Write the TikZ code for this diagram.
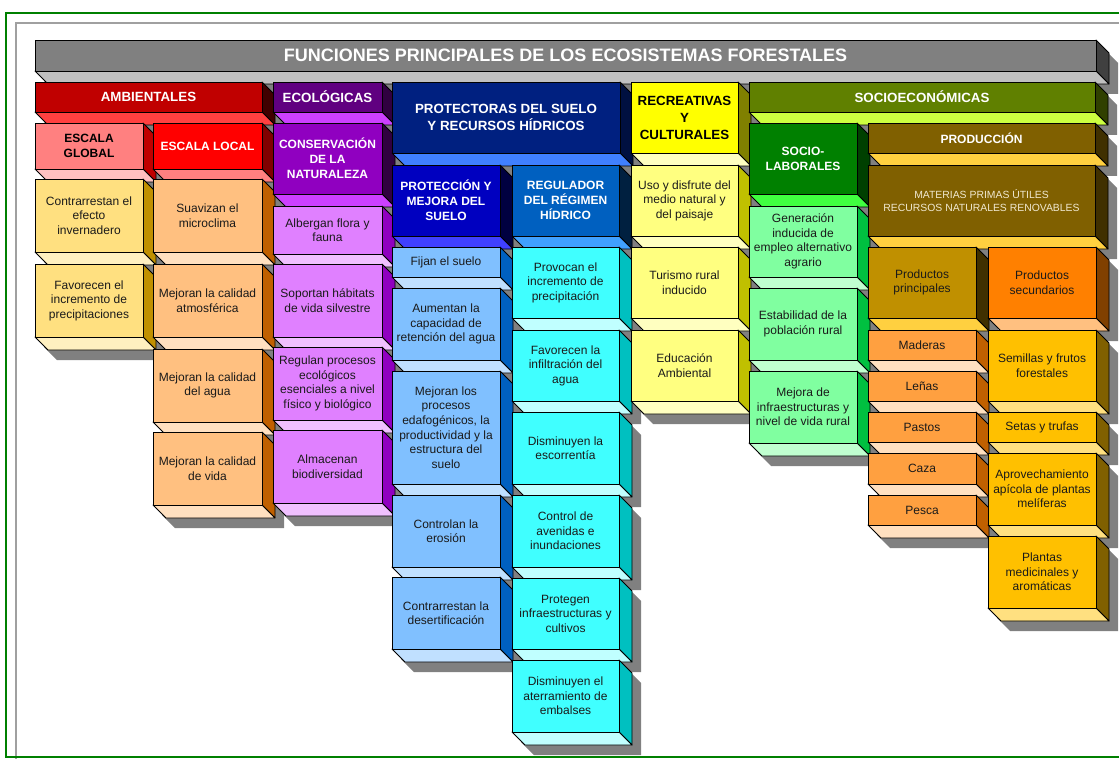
\documentclass[tikz,border=0pt]{standalone}
\usepackage{fontspec}
\setmainfont{Liberation Sans}
% colour schemes: F = front, S = side, B = bottom
\definecolor{titF}{HTML}{808080}\definecolor{titS}{HTML}{404040}\definecolor{titB}{HTML}{C0C0C0}
\definecolor{ambF}{HTML}{C00000}\definecolor{ambS}{HTML}{400000}\definecolor{ambB}{HTML}{FF4040}
\definecolor{glbF}{HTML}{FF8080}\definecolor{glbS}{HTML}{C00000}\definecolor{glbB}{HTML}{FFC0C0}
\definecolor{locF}{HTML}{FF0000}\definecolor{locS}{HTML}{800000}\definecolor{locB}{HTML}{FF8080}
\definecolor{gitF}{HTML}{FFE080}\definecolor{gitS}{HTML}{C09000}\definecolor{gitB}{HTML}{FFF0C0}
\definecolor{litF}{HTML}{FFC080}\definecolor{litS}{HTML}{C06000}\definecolor{litB}{HTML}{FFE0C0}
\definecolor{ecoF}{HTML}{600080}\definecolor{ecoS}{HTML}{300040}\definecolor{ecoB}{HTML}{CC40FF}
\definecolor{conF}{HTML}{9000C0}\definecolor{conS}{HTML}{300040}\definecolor{conB}{HTML}{CC40FF}
\definecolor{eitF}{HTML}{E080FF}\definecolor{eitS}{HTML}{9000C0}\definecolor{eitB}{HTML}{F0C0FF}
\definecolor{proF}{HTML}{002080}\definecolor{proS}{HTML}{001040}\definecolor{proB}{HTML}{4080FF}
\definecolor{pmsF}{HTML}{0000C0}\definecolor{pmsS}{HTML}{000040}\definecolor{pmsB}{HTML}{4040FF}
\definecolor{regF}{HTML}{0060C0}\definecolor{regS}{HTML}{002040}\definecolor{regB}{HTML}{40A0FF}
\definecolor{pitF}{HTML}{80C0FF}\definecolor{pitS}{HTML}{0060C0}\definecolor{pitB}{HTML}{C0E0FF}
\definecolor{ritF}{HTML}{40FFFF}\definecolor{ritS}{HTML}{00C0C0}\definecolor{ritB}{HTML}{C0FFFF}
\definecolor{recF}{HTML}{FFFF00}\definecolor{recS}{HTML}{808000}\definecolor{recB}{HTML}{FFFFC0}
\definecolor{citF}{HTML}{FFFF80}\definecolor{citS}{HTML}{C0C000}\definecolor{citB}{HTML}{FFFFC0}
\definecolor{socF}{HTML}{608000}\definecolor{socS}{HTML}{304000}\definecolor{socB}{HTML}{CCFF40}
\definecolor{slbF}{HTML}{008000}\definecolor{slbS}{HTML}{004000}\definecolor{slbB}{HTML}{40FF40}
\definecolor{sitF}{HTML}{80FFA0}\definecolor{sitS}{HTML}{00C040}\definecolor{sitB}{HTML}{C0FFD0}
\definecolor{prdF}{HTML}{806000}\definecolor{prdS}{HTML}{403000}\definecolor{prdB}{HTML}{FFD040}
\definecolor{ppF}{HTML}{C09000}\definecolor{ppS}{HTML}{403000}\definecolor{ppB}{HTML}{FFD040}
\definecolor{psF}{HTML}{FF8000}\definecolor{psS}{HTML}{804000}\definecolor{psB}{HTML}{FFC080}
\definecolor{ppiF}{HTML}{FFA040}\definecolor{ppiS}{HTML}{C06000}\definecolor{ppiB}{HTML}{FFE0C0}
\definecolor{psiF}{HTML}{FFC000}\definecolor{psiS}{HTML}{806000}\definecolor{psiB}{HTML}{FFE080}
\definecolor{shadowgray}{HTML}{808080}
\definecolor{framegreen}{HTML}{008000}
\definecolor{framegray}{HTML}{A0A0A0}
\definecolor{bodyink}{HTML}{1A1A1A}
\definecolor{matink}{HTML}{F0E8D0}
\tikzset{
  cubeline/.style={draw=black, line width=0.6pt, line join=round},
  ttl/.style={text=white, font=\fontsize{13.5}{16}\selectfont\bfseries},
  hdr/.style={text=white, font=\fontsize{10}{12.5}\selectfont\bfseries},
  hdrk/.style={text=black, font=\fontsize{10}{12.75}\selectfont\bfseries},
  subh/.style={text=white, font=\fontsize{9}{11.25}\selectfont\bfseries},
  subhk/.style={text=black, font=\fontsize{9}{11.25}\selectfont\bfseries},
  bodyt/.style={text=bodyink, font=\fontsize{9}{10.9}\selectfont},
  matt/.style={text=matink, font=\fontsize{7.8}{9.5}\selectfont},
}
% #1 name, #2 x0, #3 y0, #4 x1, #5 y1, #6 scheme, #7 text style, #8 text
\newcommand\shadowitem[8]{%
  \fill[shadowgray] (#2+9,#3+10) -- (#4+9,#3+10) -- (#4+22,#3+23) -- (#4+22,#5+23)
    -- (#2+22,#5+23) -- (#2+9,#5+10) -- cycle;}
\newcommand\drawitem[8]{%
  \filldraw[cubeline, fill=#6S] (#4,#3) -- (#4+13,#3+13) -- (#4+13,#5+13) -- (#4,#5) -- cycle;
  \filldraw[cubeline, fill=#6B] (#2,#5) -- (#4,#5) -- (#4+13,#5+13) -- (#2+13,#5+13) -- cycle;
  \node[cubeline, fill=#6F, anchor=north west, outer sep=0pt, inner sep=0pt, align=center,
    minimum width={(#4-#2)*0.75pt}, minimum height={(#5-#3)*0.75pt}, #7] (#1) at (#2,#3) {#8};}
\newcommand\allcubes{%
  \cubeitem{title}{35}{40}{1096}{71}{tit}{ttl}{FUNCIONES PRINCIPALES DE LOS ECOSISTEMAS FORESTALES}
  % AMBIENTALES
  \cubeitem{amb}{35}{82}{262}{112}{amb}{hdr}{AMBIENTALES}
  \cubeitem{glb}{35}{123}{143}{169}{glb}{subhk}{ESCALA\\GLOBAL}
  \cubeitem{glb1}{35}{179}{143}{252}{git}{bodyt}{Contrarrestan el\\efecto\\invernadero}
  \cubeitem{glb2}{35}{264}{143}{337}{git}{bodyt}{Favorecen el\\incremento de\\precipitaciones}
  \cubeitem{loc}{153}{123}{262}{169}{loc}{subh}{ESCALA LOCAL}
  \cubeitem{loc1}{153}{179}{262}{252}{lit}{bodyt}{Suavizan el\\microclima}
  \cubeitem{loc2}{153}{264}{262}{337}{lit}{bodyt}{Mejoran la calidad\\atmosférica}
  \cubeitem{loc3}{153}{349}{262}{422}{lit}{bodyt}{Mejoran la calidad\\del agua}
  \cubeitem{loc4}{153}{432}{262}{505}{lit}{bodyt}{Mejoran la calidad\\de vida}
  % ECOLOGICAS
  \cubeitem{eco}{273}{82}{382}{112}{eco}{hdr}{ECOLÓGICAS}
  \cubeitem{con}{273}{123}{382}{194}{con}{subh}{CONSERVACIÓN\\DE LA\\NATURALEZA}
  \cubeitem{eco1}{273}{206}{382}{254}{eit}{bodyt}{Albergan flora y\\fauna}
  \cubeitem{eco2}{273}{264}{382}{337}{eit}{bodyt}{Soportan hábitats\\de vida silvestre}
  \cubeitem{eco3}{273}{347}{382}{420}{eit}{bodyt}{Regulan procesos\\ecológicos\\esenciales a nivel\\físico y biológico}
  \cubeitem{eco4}{273}{430}{382}{503}{eit}{bodyt}{Almacenan\\biodiversidad}
  % PROTECTORAS
  \cubeitem{pro}{392}{82}{620}{153}{pro}{hdr}{PROTECTORAS DEL SUELO\\Y RECURSOS HÍDRICOS}
  \cubeitem{pms}{392}{165}{500}{236}{pms}{subh}{PROTECCIÓN Y\\MEJORA DEL\\SUELO}
  \cubeitem{pms1}{392}{247}{500}{277}{pit}{bodyt}{Fijan el suelo}
  \cubeitem{pms2}{392}{288}{500}{360}{pit}{bodyt}{Aumentan la\\capacidad de\\retención del agua}
  \cubeitem{pms3}{392}{371}{500}{484}{pit}{bodyt}{Mejoran los\\procesos\\edafogénicos, la\\productividad y la\\estructura del\\suelo}
  \cubeitem{pms4}{392}{495}{500}{567}{pit}{bodyt}{Controlan la\\erosión}
  \cubeitem{pms5}{392}{577}{500}{649}{pit}{bodyt}{Contrarrestan la\\desertificación}
  \cubeitem{reg}{512}{165}{619}{236}{reg}{subh}{REGULADOR\\DEL RÉGIMEN\\HÍDRICO}
  \cubeitem{reg1}{512}{247}{619}{318}{rit}{bodyt}{Provocan el\\incremento de\\precipitación}
  \cubeitem{reg2}{512}{330}{619}{401}{rit}{bodyt}{Favorecen la\\infiltración del\\agua}
  \cubeitem{reg3}{512}{412}{619}{484}{rit}{bodyt}{Disminuyen la\\escorrentía}
  \cubeitem{reg4}{512}{495}{619}{567}{rit}{bodyt}{Control de\\avenidas e\\inundaciones}
  \cubeitem{reg5}{512}{578}{619}{649}{rit}{bodyt}{Protegen\\infraestructuras y\\cultivos}
  \cubeitem{reg6}{512}{660}{619}{732}{rit}{bodyt}{Disminuyen el\\aterramiento de\\embalses}
  % RECREATIVAS
  \cubeitem{rec}{631}{82}{738}{153}{rec}{hdrk}{RECREATIVAS\\Y\\CULTURALES}
  \cubeitem{rec1}{631}{165}{738}{236}{cit}{bodyt}{Uso y disfrute del\\medio natural y\\del paisaje}
  \cubeitem{rec2}{631}{247}{738}{318}{cit}{bodyt}{Turismo rural\\inducido}
  \cubeitem{rec3}{631}{330}{738}{401}{cit}{bodyt}{Educación\\Ambiental}
  % SOCIOECONOMICAS
  \cubeitem{soc}{749}{82}{1095}{112}{soc}{hdr}{SOCIOECONÓMICAS}
  \cubeitem{slb}{749}{123}{857}{194}{slb}{subh}{SOCIO-\\LABORALES}
  \cubeitem{slb1}{749}{206}{857}{277}{sit}{bodyt}{Generación\\inducida de\\empleo alternativo\\agrario}
  \cubeitem{slb2}{749}{288}{857}{360}{sit}{bodyt}{Estabilidad de la\\población rural}
  \cubeitem{slb3}{749}{371}{857}{443}{sit}{bodyt}{Mejora de\\infraestructuras y\\nivel de vida rural}
  \cubeitem{prd}{868}{123}{1095}{153}{prd}{subh}{PRODUCCIÓN}
  \cubeitem{mat}{868}{165}{1095}{236}{prd}{matt}{MATERIAS PRIMAS ÚTILES\\RECURSOS NATURALES RENOVABLES}
  \cubeitem{pp}{868}{247}{976}{318}{pp}{bodyt}{Productos\\principales}
  \cubeitem{pp1}{868}{330}{976}{360}{ppi}{bodyt}{Maderas}
  \cubeitem{pp2}{868}{371}{976}{401}{ppi}{bodyt}{Leñas}
  \cubeitem{pp3}{868}{412}{976}{442}{ppi}{bodyt}{Pastos}
  \cubeitem{pp4}{868}{453}{976}{484}{ppi}{bodyt}{Caza}
  \cubeitem{pp5}{868}{495}{976}{525}{ppi}{bodyt}{Pesca}
  \cubeitem{ps}{988}{247}{1096}{318}{ps}{bodyt}{Productos\\secundarios}
  \cubeitem{ps1}{988}{330}{1096}{401}{psi}{bodyt}{Semillas y frutos\\forestales}
  \cubeitem{ps2}{988}{412}{1096}{442}{psi}{bodyt}{Setas y trufas}
  \cubeitem{ps3}{988}{453}{1096}{525}{psi}{bodyt}{Aprovechamiento\\apícola de plantas\\melíferas}
  \cubeitem{ps4}{988}{536}{1096}{608}{psi}{bodyt}{Plantas\\medicinales y\\aromáticas}
}
\begin{document}
\begin{tikzpicture}[x=0.75pt,y=-0.75pt]
  \useasboundingbox (0,0) rectangle (1119,759);
  \clip (0,0) rectangle (1119,759);
  \fill[white] (0,0) rectangle (1119,759);
  \draw[framegray, line width=1.5pt] (16,23) rectangle (1140,790);
  \draw[framegreen, line width=1.5pt] (6,13) rectangle (1150,757);
  \let\cubeitem\shadowitem
  \allcubes
  \let\cubeitem\drawitem
  \allcubes
\end{tikzpicture}
\end{document}
